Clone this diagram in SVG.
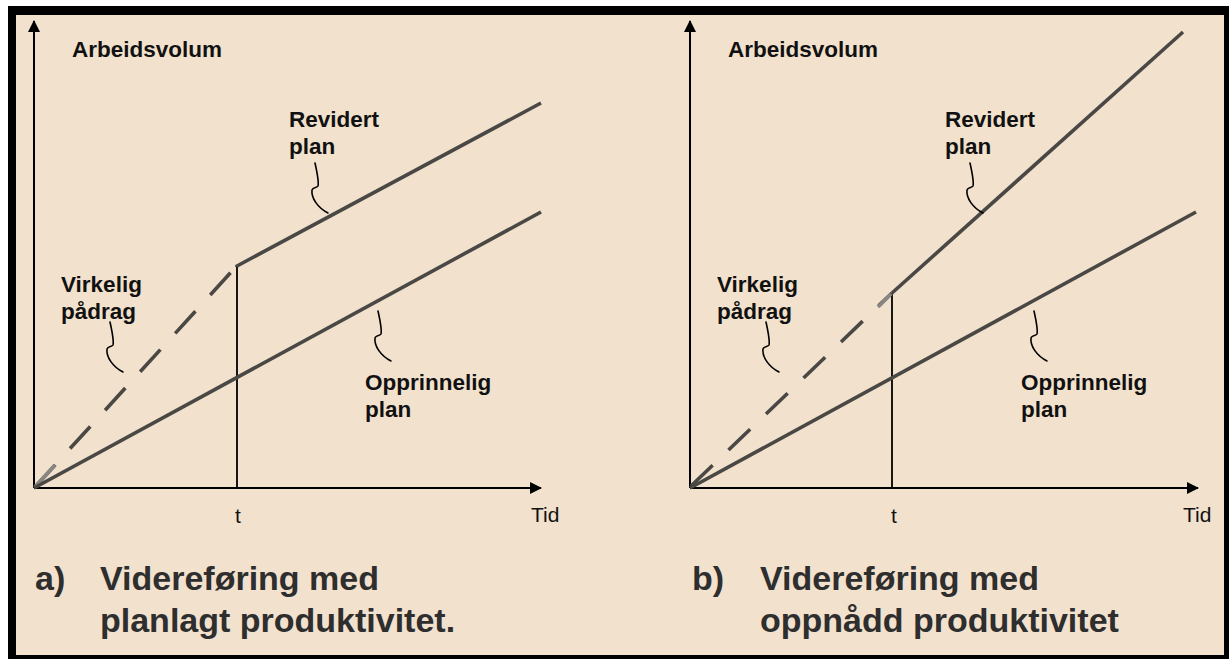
<svg xmlns="http://www.w3.org/2000/svg" width="1229" height="659" viewBox="0 0 1229 659">
  <style>
    .lbl { font-family: "Liberation Sans", Arial, sans-serif; font-weight: bold; font-size: 22.5px; fill: #111; }
    .tick { font-family: "Liberation Sans", Arial, sans-serif; font-size: 21px; fill: #111; }
    .cap { font-family: "Liberation Sans", Arial, sans-serif; font-weight: bold; font-size: 34px; fill: #2e2e2e; }
    .axis { stroke: #000; stroke-width: 2; fill: none; }
    .tline { stroke: #000; stroke-width: 1.8; fill: none; }
    .plan { stroke: #4a4845; stroke-width: 3.6; fill: none; stroke-linecap: butt; }
    .dash { stroke: #4a4845; stroke-width: 3.6; fill: none; stroke-dasharray: 30 22; }
    .fade { stroke: #8a8782; stroke-width: 3.6; fill: none; }
    .sq { stroke: #000; stroke-width: 1.6; fill: none; stroke-linecap: round; }
  </style>
  <defs>
    <marker id="arr" markerWidth="12" markerHeight="12" refX="11" refY="6" orient="auto" markerUnits="userSpaceOnUse">
      <path d="M0,0 L12,6 L0,12 Z" fill="#000"/>
    </marker>
    <!-- hand-drawn pointer from a label to its line -->
    <path id="squiggle" d="M0,0 C2,9 4,19 3,23 C2,25 -2,24 -3,27 C-4,35 3,45 13,50"/>
  </defs>

  <!-- frame -->
  <rect x="0" y="0" width="1229" height="659" fill="#fff"/>
  <rect x="8" y="6" width="1221" height="653" fill="#000"/>
  <rect x="16" y="15" width="1208" height="640" fill="#F2E1CD"/>

  <!-- panel a -->
  <g id="panel-a">
    <g id="axes-a">
      <line class="axis" x1="34" y1="488" x2="34" y2="21" marker-end="url(#arr)"/>
      <line class="axis" x1="34" y1="488" x2="541" y2="488" marker-end="url(#arr)"/>
      <line class="tline" x1="237" y1="267" x2="237" y2="488"/>
    </g>
    <g id="lines-a">
      <line class="dash" x1="35" y1="487" x2="233" y2="270"/>
      <line class="fade" x1="35" y1="487" x2="55" y2="465"/>
      <line class="plan" x1="34" y1="488" x2="541" y2="212"/>
      <polyline class="plan" points="237,267 237,266 541,103"/>
    </g>
    <g id="pointers-a">
      <use href="#squiggle" class="sq" transform="translate(315,163)"/>
      <use href="#squiggle" class="sq" transform="translate(110,322)"/>
      <use href="#squiggle" class="sq" transform="translate(378,311)"/>
    </g>
    <g id="labels-a">
      <text class="lbl" x="72" y="57">Arbeidsvolum</text>
      <text class="lbl" x="289" y="127">Revidert</text>
      <text class="lbl" x="289" y="154">plan</text>
      <text class="lbl" x="61" y="292">Virkelig</text>
      <text class="lbl" x="61" y="319">pådrag</text>
      <text class="lbl" x="365" y="390">Opprinnelig</text>
      <text class="lbl" x="365" y="417">plan</text>
      <text class="tick" x="238" y="523" text-anchor="middle">t</text>
      <text class="tick" x="531" y="522">Tid</text>
    </g>
    <g id="caption-a">
      <text class="cap" x="35" y="590">a)</text>
      <text class="cap" x="100" y="590">Videreføring med</text>
      <text class="cap" x="100" y="632">planlagt produktivitet.</text>
    </g>
  </g>

  <!-- panel b -->
  <g id="panel-b">
    <g id="axes-b">
      <line class="axis" x1="690" y1="488" x2="690" y2="21" marker-end="url(#arr)"/>
      <line class="axis" x1="690" y1="488" x2="1198" y2="488" marker-end="url(#arr)"/>
      <line class="tline" x1="892" y1="293" x2="892" y2="488"/>
    </g>
    <g id="lines-b">
      <line class="dash" x1="691" y1="486" x2="892" y2="293"/>
      <line class="fade" x1="878" y1="307" x2="891" y2="294"/>
      <line class="plan" x1="690" y1="488" x2="1196" y2="212"/>
      <line class="plan" x1="892" y1="293" x2="1183" y2="32"/>
    </g>
    <g id="pointers-b">
      <use href="#squiggle" class="sq" transform="translate(970,163)"/>
      <use href="#squiggle" class="sq" transform="translate(766,322)"/>
      <use href="#squiggle" class="sq" transform="translate(1034,311)"/>
    </g>
    <g id="labels-b">
      <text class="lbl" x="728" y="57">Arbeidsvolum</text>
      <text class="lbl" x="945" y="127">Revidert</text>
      <text class="lbl" x="945" y="154">plan</text>
      <text class="lbl" x="717" y="292">Virkelig</text>
      <text class="lbl" x="717" y="319">pådrag</text>
      <text class="lbl" x="1021" y="390">Opprinnelig</text>
      <text class="lbl" x="1021" y="417">plan</text>
      <text class="tick" x="894" y="523" text-anchor="middle">t</text>
      <text class="tick" x="1183" y="522">Tid</text>
    </g>
    <g id="caption-b">
      <text class="cap" x="692" y="590">b)</text>
      <text class="cap" x="760" y="590">Videreføring med</text>
      <text class="cap" x="760" y="632">oppnådd produktivitet</text>
    </g>
  </g>
</svg>
